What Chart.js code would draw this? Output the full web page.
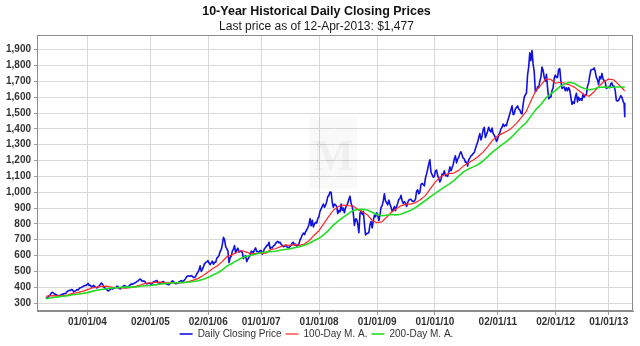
<!DOCTYPE html>
<html>
<head>
<meta charset="utf-8">
<title>10-Year Historical Daily Closing Prices</title>
<script src="https://cdn.jsdelivr.net/npm/chart.js@4.4.1/dist/chart.umd.min.js"></script>
<style>
  html, body { margin: 0; padding: 0; background: #ffffff; }
  canvas { display: block; }
</style>
</head>
<body>
<canvas id="chart" width="640" height="346"></canvas>
<script>
// Weekly closing prices (USD/oz); each year's list starts on the Monday given in weekStarts.
const weekStarts = ['2003-04-14', '2004-01-05', '2005-01-03', '2006-01-02', '2007-01-01',
                    '2008-01-07', '2009-01-05', '2010-01-04', '2011-01-03', '2012-01-02', '2013-01-07'];
const close2003 = [328, 333, 338, 347, 352, 365, 368, 362, 356, 355, 349, 346, 347, 348, 354, 356, 358, 360, 362, 372,
                   376, 380, 379, 386, 384, 371, 374, 379, 386, 382, 392, 397, 398, 404, 408, 410, 411, 416];
const close2004 = [424, 411, 413, 402, 404, 412, 405, 398, 396, 400, 408, 418, 426, 420, 402, 396, 390,
                   384, 376, 380, 387, 392, 388, 393, 395, 397, 407, 404, 392, 390, 397, 401, 409, 410, 407,
                   400, 404, 409, 415, 421, 418, 423, 427, 431, 436, 440, 447, 452, 445, 437, 440, 438];
const close2005 = [425, 421, 423, 426, 422, 414, 426, 434, 437, 440, 443, 428, 427, 426, 428, 434, 436,
                   428, 424, 419, 418, 416, 425, 433, 440, 437, 426, 422, 424, 425, 433, 438, 442, 437, 439,
                   447, 456, 468, 472, 470, 469, 473, 469, 462, 461, 470, 485, 495, 510, 535, 500, 513];
const close2006 = [530, 549, 556, 560, 568, 553, 543, 555, 565, 545, 557, 558, 584, 590, 600, 627, 637,
                   670, 715, 700, 657, 643, 630, 555, 585, 596, 628, 641, 663, 616, 635, 647, 622, 627, 625,
                   620, 581, 595, 599, 562, 578, 590, 600, 628, 624, 620, 636, 648, 626, 625, 620, 632];
const close2007 = [632, 608, 626, 645, 650, 665, 664, 684, 645, 652, 648, 662, 664, 677, 685, 690, 680, 684,
                   670, 666, 656, 659, 665, 655, 652, 650, 657, 665, 680, 684, 667, 672, 660, 665, 673,
                   700, 712, 731, 742, 732, 750, 763, 775, 795, 833, 788, 823, 781, 799, 810, 805, 835, 845];
const close2008 = [880, 895, 910, 925, 905, 918, 940, 972, 980, 1001, 1000, 935, 905, 925, 920, 910, 865,
                   885, 875, 925, 885, 900, 870, 903, 915, 930, 955, 975, 930, 910, 865, 790, 830, 830,
                   800, 745, 865, 882, 860, 880, 800, 730, 740, 740, 745, 795, 815, 775, 820, 855, 845, 870];
const close2009 = [855, 820, 855, 905, 915, 945, 990, 945, 935, 920, 950, 925, 905, 880, 890, 910, 885,
                   910, 930, 955, 960, 980, 945, 930, 940, 930, 910, 935, 950, 955, 955, 945, 942, 945, 955,
                   1005, 1015, 990, 1000, 1050, 1055, 1050, 1040, 1090, 1115, 1145, 1180, 1205, 1125, 1110, 1095, 1100];
const close2010 = [1135, 1140, 1105, 1085, 1065, 1080, 1115, 1110, 1135, 1105, 1105, 1100, 1125, 1160, 1135, 1155, 1175,
                   1210, 1230, 1185, 1210, 1220, 1245, 1255, 1235, 1215, 1210, 1190, 1190, 1165, 1205, 1215, 1230, 1235, 1245,
                   1250, 1275, 1297, 1315, 1345, 1370, 1330, 1355, 1395, 1410, 1345, 1365, 1385, 1410, 1390, 1380, 1405];
const close2011 = [1370, 1360, 1345, 1320, 1335, 1360, 1375, 1400, 1410, 1430, 1415, 1425, 1420, 1450, 1470, 1495, 1520,
                   1545, 1490, 1495, 1525, 1535, 1545, 1525, 1520, 1500, 1495, 1555, 1600, 1615, 1625, 1740, 1790, 1880, 1830,
                   1895, 1810, 1760, 1635, 1640, 1665, 1660, 1700, 1725, 1790, 1770, 1725, 1700, 1745, 1660, 1590, 1600];
const close2012 = [1600, 1640, 1660, 1720, 1740, 1725, 1725, 1775, 1780, 1700, 1655, 1660, 1665, 1640, 1660, 1640, 1660, 1645,
                   1600, 1555, 1570, 1560, 1600, 1625, 1570, 1600, 1580, 1590, 1580, 1620, 1600, 1615, 1615, 1670, 1690,
                   1735, 1770, 1775, 1775, 1785, 1760, 1725, 1710, 1680, 1730, 1715, 1750, 1715, 1705, 1695, 1655, 1660, 1665];
const close2013 = [1660, 1685, 1690, 1665, 1670, 1640, 1580, 1575, 1580, 1595, 1610, 1600, 1575, 1560];
const lastCloseDate = '2013-04-12';
const lastClose = 1477;

// Moving averages, sampled at month ends, plus the first and last trading days.
const maMonths = [
  '2003-04', '2003-05', '2003-06', '2003-07', '2003-08', '2003-09', '2003-10', '2003-11', '2003-12',
  '2004-01', '2004-02', '2004-03', '2004-04', '2004-05', '2004-06', '2004-07', '2004-08', '2004-09', '2004-10', '2004-11', '2004-12',
  '2005-01', '2005-02', '2005-03', '2005-04', '2005-05', '2005-06', '2005-07', '2005-08', '2005-09', '2005-10', '2005-11', '2005-12',
  '2006-01', '2006-02', '2006-03', '2006-04', '2006-05', '2006-06', '2006-07', '2006-08', '2006-09', '2006-10', '2006-11', '2006-12',
  '2007-01', '2007-02', '2007-03', '2007-04', '2007-05', '2007-06', '2007-07', '2007-08', '2007-09', '2007-10', '2007-11', '2007-12',
  '2008-01', '2008-02', '2008-03', '2008-04', '2008-05', '2008-06', '2008-07', '2008-08', '2008-09', '2008-10', '2008-11', '2008-12',
  '2009-01', '2009-02', '2009-03', '2009-04', '2009-05', '2009-06', '2009-07', '2009-08', '2009-09', '2009-10', '2009-11', '2009-12',
  '2010-01', '2010-02', '2010-03', '2010-04', '2010-05', '2010-06', '2010-07', '2010-08', '2010-09', '2010-10', '2010-11', '2010-12',
  '2011-01', '2011-02', '2011-03', '2011-04', '2011-05', '2011-06', '2011-07', '2011-08', '2011-09', '2011-10', '2011-11', '2011-12',
  '2012-01', '2012-02', '2012-03', '2012-04', '2012-05', '2012-06', '2012-07', '2012-08', '2012-09', '2012-10', '2012-11', '2012-12',
  '2013-01', '2013-02', '2013-03'];
const ma100 = [
  345, 347, 346, 347, 352, 361, 366, 374, 385,
  395, 401, 406, 407, 401, 397, 396, 395, 398, 405, 414, 424,
  428, 431, 432, 429, 427, 428, 427, 429, 436, 445, 456, 474,
  496, 517, 536, 562, 594, 604, 621, 632, 622, 611, 614, 613,
  615, 637, 643, 655, 667, 664, 669, 664, 673, 695, 727, 757,
  802, 844, 886, 909, 919, 915, 914, 892, 876, 858, 823, 807,
  813, 840, 872, 894, 914, 925, 925, 934, 953, 977, 1018, 1061,
  1094, 1110, 1117, 1121, 1138, 1166, 1186, 1204, 1225, 1253, 1288, 1329,
  1355, 1370, 1385, 1406, 1436, 1472, 1511, 1580, 1642, 1674, 1716, 1713,
  1688, 1694, 1687, 1677, 1662, 1639, 1614, 1606, 1634, 1669, 1697, 1714,
  1710, 1684, 1653];
const ma200 = [
  330, 335, 339, 343, 347, 353, 356, 360, 366,
  374, 381, 386, 391, 394, 397, 399, 401, 401, 402, 406, 409,
  411, 415, 419, 423, 425, 428, 429, 430, 432, 436, 441, 450,
  462, 476, 490, 509, 535, 550, 568, 585, 596, 602, 610, 618,
  623, 625, 627, 634, 638, 642, 650, 656, 665, 678, 694, 709,
  732, 758, 792, 817, 841, 862, 884, 890, 892, 888, 873, 859,
  851, 855, 859, 857, 861, 873, 885, 902, 924, 946, 969, 991,
  1013, 1032, 1051, 1073, 1101, 1128, 1146, 1160, 1175, 1197, 1225, 1255,
  1279, 1300, 1322, 1349, 1382, 1412, 1440, 1482, 1523, 1554, 1593, 1620,
  1641, 1668, 1684, 1694, 1686, 1668, 1655, 1647, 1652, 1662, 1664, 1662,
  1663, 1664, 1664];
const maFirst = { date: '2003-04-14', ma100: 343, ma200: 329 };
const maLast  = { date: '2013-04-12', ma100: 1638, ma200: 1662 };

// Axis ticks
const xTickDates  = ['2004-01-01', '2005-02-01', '2006-02-01', '2007-01-01', '2008-01-01',
                     '2009-01-01', '2010-01-01', '2011-02-01', '2012-02-01', '2013-01-01'];
const xTickLabels = ['01/01/04', '02/01/05', '02/01/06', '01/01/07', '01/01/08',
                     '01/01/09', '01/01/10', '02/01/11', '02/01/12', '01/01/13'];
const yTicks = [300, 400, 500, 600, 700, 800, 900, 1000, 1100, 1200, 1300, 1400, 1500, 1600, 1700, 1800, 1900];
const xRange = ['2003-02-17', '2013-06-03'];
const yRange = [250, 1990];

// ---- helpers: dates become day numbers on a linear x axis ----
const DAY = 86400000;
function dayOf(s) { const [y, m, d] = s.split('-').map(Number); return Date.UTC(y, m - 1, d) / DAY; }
function monthEnd(s) { const [y, m] = s.split('-').map(Number); return Date.UTC(y, m, 0) / DAY; }

const closesByYear = [close2003, close2004, close2005, close2006, close2007, close2008,
                      close2009, close2010, close2011, close2012, close2013];
const pricePoints = [];
closesByYear.forEach((list, k) => {
  const start = dayOf(weekStarts[k]);
  list.forEach((v, i) => pricePoints.push({ x: start + 7 * i, y: v }));
});
pricePoints.push({ x: dayOf(lastCloseDate), y: lastClose });

function maPoints(values, key) {
  const pts = [{ x: dayOf(maFirst.date), y: maFirst[key] }];
  maMonths.forEach((m, i) => pts.push({ x: monthEnd(m), y: values[i] }));
  pts.push({ x: dayOf(maLast.date), y: maLast[key] });
  return pts;
}

const xTickDays = xTickDates.map(dayOf);
const FONT = "'Liberation Sans', Arial, sans-serif";

// Plot frame drawn around the chart area
const plotFrame = {
  id: 'plotFrame',
  afterDatasetsDraw(chart) {
    const { ctx, chartArea: a } = chart;
    ctx.save();
    ctx.strokeStyle = '#8c8c8c';
    ctx.lineWidth = 1;
    ctx.strokeRect(Math.round(a.left) + 0.5, Math.round(a.top) + 0.5,
                   Math.round(a.right - a.left) - 1, Math.round(a.bottom - a.top) - 1);
    ctx.restore();
  }
};

// Faint publisher mark behind the data
const watermark = {
  id: 'watermark',
  beforeDatasetsDraw(chart) {
    const { ctx, chartArea: a } = chart;
    const cx = a.left + (a.right - a.left) * 0.497;
    const cy = a.top + (a.bottom - a.top) * 0.425;
    ctx.save();
    ctx.fillStyle = 'rgba(0,0,0,0.022)';
    ctx.fillRect(cx - 24, cy - 36, 48, 72);
    ctx.fillStyle = 'rgba(0,0,0,0.04)';
    ctx.font = "bold 44px 'Liberation Serif', serif";
    ctx.textAlign = 'center';
    ctx.textBaseline = 'middle';
    ctx.fillText('M', cx, cy + 6);
    ctx.restore();
  }
};

new Chart(document.getElementById('chart'), {
  type: 'line',
  data: {
    datasets: [
      { label: 'Daily Closing Price', data: pricePoints, borderColor: '#1010e0', borderWidth: 1.6, order: 2 },
      { label: '100-Day M. A.', data: maPoints(ma100, 'ma100'), borderColor: '#ff2626', borderWidth: 1.2, order: 1 },
      { label: '200-Day M. A.', data: maPoints(ma200, 'ma200'), borderColor: '#22dd22', borderWidth: 1.6, order: 0 }
    ]
  },
  options: {
    responsive: false,
    animation: false,
    devicePixelRatio: 1,
    parsing: false,
    normalized: true,
    elements: {
      point: { radius: 0, hoverRadius: 0 },
      line: { tension: 0, fill: false, borderJoinStyle: 'round' }
    },
    layout: { padding: { left: 0, right: 7, top: 0, bottom: 0 } },
    plugins: {
      title: {
        display: true,
        text: '10-Year Historical Daily Closing Prices',
        color: '#111111',
        font: { family: FONT, size: 12.5, weight: 'bold', lineHeight: 1.2 },
        padding: { top: 4.5, bottom: 0 }
      },
      subtitle: {
        display: true,
        text: 'Last price as of 12-Apr-2013: $1,477',
        color: '#1a1a1a',
        font: { family: FONT, size: 12, weight: 'normal', lineHeight: 1.2 },
        padding: { top: 0, bottom: 1.5 }
      },
      legend: {
        position: 'bottom',
        maxHeight: 21,
        labels: {
          usePointStyle: true,
          pointStyle: 'line',
          pointStyleWidth: 13,
          boxHeight: 10,
          padding: 4,
          color: '#333333',
          font: { family: FONT, size: 10 },
          sort: (a, b) => a.datasetIndex - b.datasetIndex
        }
      },
      tooltip: { enabled: false }
    },
    scales: {
      x: {
        type: 'linear',
        min: dayOf(xRange[0]),
        max: dayOf(xRange[1]),
        afterBuildTicks(scale) { scale.ticks = xTickDays.map(v => ({ value: v })); },
        afterFit(scale) { scale.height = 14; },
        ticks: {
          autoSkip: false,
          maxRotation: 0,
          padding: 1,
          color: '#333333',
          font: { family: FONT, size: 10, weight: 'bold' },
          callback: (v, i) => xTickLabels[i]
        },
        grid: { color: '#d9d9d9', lineWidth: 1, tickLength: 4, tickColor: '#999999' },
        border: { color: '#8c8c8c' }
      },
      y: {
        type: 'linear',
        min: yRange[0],
        max: yRange[1],
        afterBuildTicks(scale) { scale.ticks = yTicks.map(v => ({ value: v })); },
        afterFit(scale) { scale.width = 37; },
        ticks: {
          padding: 3,
          color: '#333333',
          font: { family: FONT, size: 10, weight: 'bold' },
          callback: v => v.toLocaleString('en-US')
        },
        grid: { color: '#d9d9d9', lineWidth: 1, tickLength: 3, tickColor: '#999999' },
        border: { color: '#8c8c8c' }
      }
    }
  },
  plugins: [watermark, plotFrame]
});
</script>
</body>
</html>
